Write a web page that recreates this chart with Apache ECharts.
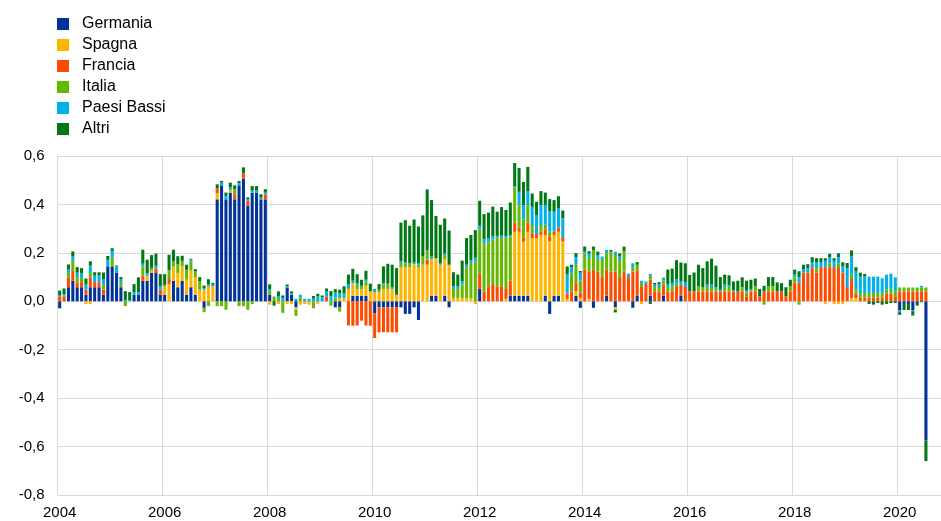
<!DOCTYPE html>
<html>
<head>
<meta charset="utf-8">
<script src="https://cdn.jsdelivr.net/npm/echarts@6/dist/echarts.min.js"></script>
<style>
  html, body { margin: 0; padding: 0; background: #fff; }
  #chart { width: 941px; height: 521px; }
</style>
</head>
<body>
<div id="chart"></div>
<script>
// Monthly contributions by country, Jan 2004 - Jul 2020
const firstYear = 2004;
const lastYear = 2020;
const axisMonthsInLastYear = 11;   // axis runs past the last month, to Nov 2020
const tickYears = [2004, 2006, 2008, 2010, 2012, 2014, 2016, 2018, 2020];

const germania = [
  -0.029,0,0.058,0.085,0.058,0.058,0.027,0.058,0.058,0.058,0.027,0.144,
  0.144,0.117,0.058,0,0,0.027,0.027,0.085,0.085,0.117,0.117,0.027,
  0.027,0,0.085,0.058,0.085,0.027,0.058,0.027,0,-0.027,0,0,
  0.421,0.476,0.421,0.449,0.421,0.479,0.506,0.394,0.449,0.449,0.421,0.421,
  0.027,0,0,0,0.055,0.027,-0.025,0,0,0,0,0,
  0,0,0,-0.025,-0.025,0,0,0.023,0.023,0.023,0.023,0,
  -0.049,-0.025,-0.025,-0.025,-0.025,-0.025,-0.025,-0.052,-0.052,-0.025,-0.077,0,
  0,0.023,0.023,0,0.023,-0.025,0,0,0,0,0,0,
  0.051,0,0,0,0,0,0,0.023,0.023,0.023,0.023,0.023,
  0,0,0,0.023,-0.052,0.023,0.023,0,0,0,0.023,-0.027,
  0,0,-0.027,0,0,0.023,0,-0.025,0,0,0,-0.027,
  0.023,0,0,0.023,0,0,0.023,0,0,0,0.023,0,
  0,0,0,0,0,0,0,0,0,0,0,0,
  0,0,0,0,0,0,0,0,0,0,0,0,
  0,0,0,0,0,0,0,0,0,0,0,0,
  0,0,0,0,0,0,0,0,0,0,0,0,
  -0.038,-0.011,-0.011,-0.036,-0.007,0,-0.575
];

const spagna = [
  0,0,0,0,0,0,-0.011,-0.011,0,0,0,0,
  0,0,0,0,0,0,0,0,0.021,0.010,0,0,
  0.034,0.071,0.059,0.059,0.059,0.062,0.069,0.071,0.048,0.048,0.062,0.062,
  0.025,0,0,0.011,0,0,0,0,0,0,0,0,
  -0.014,0,-0.011,0,-0.011,-0.011,-0.010,-0.014,-0.011,-0.014,0,-0.011,
  0,0,0,0,0.014,0.014,0.051,0.052,0.027,0.027,0.041,0.041,
  0.037,0.037,0.051,0.051,0.051,0.027,0.140,0.140,0.140,0.153,0.140,0.151,
  0.151,0.152,0.155,0.151,0.152,0.151,0.014,0.014,0.014,0.014,0.014,-0.011,
  0,0,0,0,0,0,0.010,0,0.264,0.264,0.223,0.264,
  0.260,0.260,0.274,0.251,0.247,0.251,0.264,0.247,0.010,0,0.018,0.014,
  0,0.010,0,0,0,0,0,-0.010,0,0,0,0,
  0,-0.011,0,0,0,0,0,0,0,0,0,0,
  0,0,0,0,0,0,0,0,0,0,0,0,
  0,0,0,0,0,0,0,0,0,0,0,0,
  0,0,0,0,0,0,0,-0.011,0,-0.011,-0.011,-0.011,
  0,0.014,0.014,0,0,0,0,0,0,0,0,0,
  0,0,0,0,0,0,0
];

const francia = [
  0.021,0.021,0.041,0.041,0.021,0.021,0.021,0.041,0.021,0.021,0.021,0,
  0,0,0,0,0,0,0,0.021,0,0,0.018,0.021,
  0,0.021,0,0,0,0,0,0,0,0,0,0,
  0.021,0,0,0,0.021,0,0.022,0.021,0,0,0,0.021,
  0,0,0,0,0,0,0,0,0,0,0,0,
  0,0.021,0,0,0,0,-0.100,-0.101,-0.100,-0.080,-0.100,-0.101,
  -0.103,-0.103,-0.103,-0.103,-0.103,-0.103,0,0,0,0,0,0,
  0.021,0,0,0,0,0,0,0,0,0,0,0,
  0.062,0.041,0.062,0.071,0.062,0.062,0.041,0.063,0.037,0.018,0.018,0.037,
  0.021,0.018,0.014,0.021,0.021,0.014,0.018,0.018,0.022,0.041,0.037,0.021,
  0.130,0.114,0.130,0.123,0.100,0.107,0.123,0.123,0.100,0.123,0.100,0.123,
  0.105,0.059,0.072,0.066,0.041,0.041,0.045,0.041,0.041,0.059,0.045,0.059,
  0.041,0.041,0.041,0.041,0.041,0.041,0.041,0.041,0.041,0.041,0.041,0.041,
  0.041,0.021,0.041,0.041,0.021,0.041,0.041,0.041,0.041,0.041,0.021,0.041,
  0.078,0.078,0.118,0.119,0.141,0.119,0.141,0.141,0.141,0.141,0.141,0.119,
  0.059,0.078,0.018,0.016,0.016,0.016,0.016,0.016,0.016,0.032,0.032,0.021,
  0.041,0.041,0.041,0.041,0.041,0.041,0.041
];

const italia = [
  0,0.004,0.018,0.041,0.021,0.018,0,0.018,0,0,0.021,0,
  0.038,0,0.018,-0.020,0,0,0,0.038,0,0.011,0,0,
  0.007,0.036,0.021,0.037,0.023,0.041,0.038,0.025,0.034,-0.018,-0.020,0,
  -0.020,-0.020,-0.035,0,0.021,-0.020,-0.020,-0.035,-0.011,0,0,0,
  0.016,0.020,0.010,-0.048,0,0,-0.025,0.016,0,0,-0.029,0,
  0,0,-0.018,0.015,-0.018,0,0,0,0.018,0.014,0.018,0,
  0,0.011,0.018,0.022,0,0,0.018,0.015,0.018,0,0.011,0.034,
  0.038,0,0,0,0.016,0,0.037,0.037,0.055,0.127,0.144,0.164,
  0.185,0.199,0.181,0.185,0.203,0.199,0.214,0.181,0.145,0.092,0.074,0.073,
  0.034,0,0.027,0.021,0.021,0,0,0,0,0.073,0.073,0.051,
  0.068,0.055,0.082,0.052,0.071,0.068,0.082,0.068,0.071,0.085,0,0.018,
  0.023,0.016,0,0.016,0.018,0.018,0.018,0.018,0.021,0.016,0,0,
  0,0,0.021,0.018,0.018,0.018,0.010,0,0.018,0.018,0,0,
  0.018,0.016,0.005,0.021,0,-0.014,0.021,0.021,0,0,0,0.021,
  0.021,-0.014,0,0,0,0.018,0,0,0.016,0,0.016,0,
  0,0.018,0.016,0.018,0.018,0.018,0.018,0.018,0.015,0.016,0.019,0.021,
  0.016,0.016,0.016,0.016,0.016,0.016,0.016
];

const paesiBassi = [
  0.005,0.005,0.014,0.018,0.018,0.018,0.021,0.030,0.027,0.027,0.023,0.027,
  0.026,0.027,0.014,0.005,0.005,0.010,0.010,0.011,0.011,0,0.012,0.014,
  0,0,0,0,0,0,0.011,0,0,0.007,0.007,0.007,
  0,0.014,0.014,0.011,0,0.008,0,0.007,0.008,0.008,0.007,0.007,
  0.007,0,0.010,0.014,0.007,0.007,0.010,0.011,0.010,0.010,0.011,0.020,
  0.016,0.021,0.021,0.021,0.018,0.018,0.018,0.010,0.007,0,0.007,0,
  0.008,0,0.007,0,0.007,0,0.007,0.005,0,0.007,0.007,0,
  0,0.010,0,0.007,0.007,0,0.011,0.011,0.014,0.010,0.011,0.016,
  0.014,0.016,0.018,0.014,0.005,0.010,0.005,0.007,0.005,0.055,0.059,0.058,
  0.075,0.078,0.082,0.082,0.082,0.082,0.078,0.078,0.078,0.027,0.032,0.032,
  0.007,0.018,0,0.016,0.014,0.014,0,0.014,0.016,0,0.014,0.016,
  0,0.010,0.010,0.008,0.010,0.010,0.012,0.010,0.014,0.016,0.014,0.019,
  0,0,0,0,0.010,0.010,0.008,0.007,0.010,0.007,0.004,0,
  0,0.008,0.005,0,0,0,0,0,0,0,0,0,
  0.011,0.021,0.015,0.018,0.019,0.025,0.019,0.026,0.025,0.026,0.025,0.027,
  0.078,0.075,0.075,0.068,0.068,0.068,0.068,0.068,0.064,0.062,0.063,0.057,
  -0.007,0,0,-0.005,0,0.007,0
];

const altri = [
  0.018,0.023,0.021,0.021,0.023,0.022,0.025,0.018,0.014,0.014,0.027,0.016,
  0.011,0.004,0.010,0.037,0.033,0.034,0.062,0.058,0.055,0.053,0.050,0.050,
  0.044,0.064,0.048,0.032,0.021,0.021,0,0.010,0.018,0.010,0.022,0.007,
  0.016,0.007,0.014,0.019,0.016,0.010,0.025,0.007,0.019,0.019,0.014,0.014,
  0.020,-0.018,0.021,0.010,0.007,0.007,0,0,0,0,0.011,0.011,
  0.008,0.011,0.021,0.014,0.016,0.030,0.041,0.049,0.037,0.025,0.037,0.032,
  0.005,0.023,0.068,0.082,0.093,0.110,0.160,0.175,0.154,0.178,0.151,0.170,
  0.252,0.233,0.174,0.158,0.144,0.141,0.058,0.048,0.085,0.110,0.105,0.114,
  0.103,0.104,0.105,0.121,0.100,0.118,0.107,0.134,0.097,0.099,0.096,0.100,
  0.055,0.055,0.058,0.051,0.051,0.048,0.051,0.032,0.034,0.010,0.016,0.007,
  0.021,0.010,0.014,0.014,0,0,0.007,-0.011,0.011,0.018,0,0,
  0.011,0,0,-0.011,0.007,0.010,0,0.062,0.059,0.079,0.078,0.079,
  0.068,0.078,0.089,0.078,0.096,0.107,0.088,0.052,0.041,0.041,0.037,0.044,
  0.040,0.040,0.038,0.032,0.030,0.023,0.038,0.038,0.037,0.034,0.037,0.027,
  0.021,0.025,0.018,0.016,0.022,0.016,0.018,0.011,0.014,0.011,0.016,0.015,
  0.021,0.025,0.018,0.016,0.011,-0.011,-0.014,-0.007,-0.014,-0.011,-0.007,-0.007,
  -0.011,-0.025,-0.025,-0.018,-0.011,-0.004,-0.085
];

const seriesNames = ['Germania', 'Spagna', 'Francia', 'Italia', 'Paesi Bassi', 'Altri'];
const seriesColors = ['#003299', '#ffb400', '#ff4b00', '#65b800', '#00b1ea', '#007816'];
const seriesData = [germania, spagna, francia, italia, paesiBassi, altri];

// month categories "YYYY-MM"
const months = [];
for (let y = firstYear; y <= lastYear; y++) {
  const n = (y === lastYear) ? axisMonthsInLastYear : 12;
  for (let m = 1; m <= n; m++) months.push(y + '-' + String(m).padStart(2, '0'));
}

const isYearTick = (idx, val) => {
  const [y, m] = String(val).split('-');
  return m === '01' && tickYears.indexOf(Number(y)) !== -1;
};

const chart = echarts.init(document.getElementById('chart'), null, { renderer: 'canvas' });

const fontFamily = '"Liberation Sans", Arial, sans-serif';
const bandWidth = 4.375;
const gridLeft = 57.5;
// plot width: one band per month; the last boundary falls just past the canvas edge
const gridWidth = bandWidth * months.length;

chart.setOption({
  animation: false,
  textStyle: { fontFamily },
  legend: {
    orient: 'vertical',
    left: 52,
    top: 11,
    itemWidth: 12,
    itemHeight: 12,
    itemGap: 5,
    icon: 'rect',
    selectedMode: false,
    textStyle: { fontSize: 16, color: '#000', fontFamily, padding: [0, 0, 0, 8] },
    data: seriesNames
  },
  grid: {
    left: gridLeft,
    width: gridWidth,
    top: 156,
    bottom: 26,
    containLabel: false,
    outerBoundsMode: 'none'
  },
  xAxis: {
    type: 'category',
    data: months,
    boundaryGap: true,
    axisLine: { show: false },
    axisTick: { show: false },
    axisLabel: {
      interval: isYearTick,
      formatter: v => v.slice(0, 4),
      color: '#000',
      fontSize: 15,
      margin: 10,
      fontFamily
    },
    splitLine: {
      show: true,
      interval: isYearTick,
      lineStyle: { color: '#d9d9d9', width: 1 }
    }
  },
  yAxis: {
    type: 'value',
    min: -0.8,
    max: 0.6,
    interval: 0.2,
    axisLine: { show: false },
    axisTick: { show: false },
    axisLabel: {
      formatter: v => v.toFixed(1).replace('.', ','),
      color: '#000',
      fontSize: 15,
      margin: 13,
      fontFamily
    },
    splitLine: { lineStyle: { color: '#d9d9d9', width: 1 } }
  },
  series: seriesNames.map((name, k) => ({
    name,
    type: 'bar',
    stack: 'total',
    barWidth: '70%',
    data: seriesData[k],
    itemStyle: { color: seriesColors[k] },
    emphasis: { disabled: true }
  }))
});
</script>
</body>
</html>
